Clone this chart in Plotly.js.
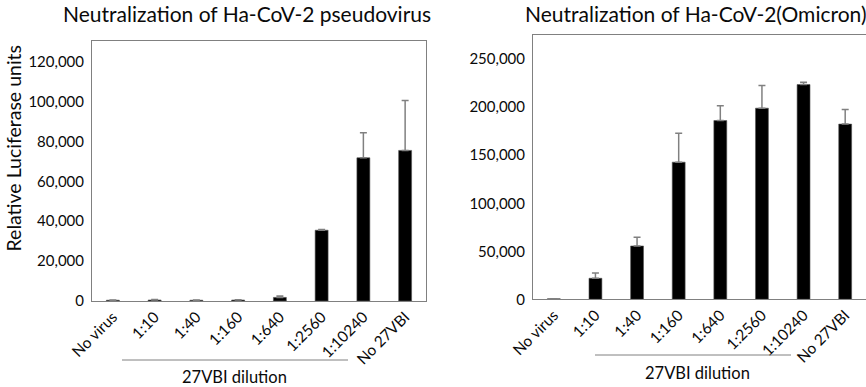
<!DOCTYPE html>
<html>
<head>
<meta charset="utf-8">
<script src="https://cdn.plot.ly/plotly-3.0.1.min.js"></script>
<style>html,body{margin:0;padding:0;background:#fff}#chart{width:866px;height:387px}</style>
</head>
<body>
<div id="chart"></div>
<script>
const categories = ["No virus", "1:10", "1:40", "1:160", "1:640", "1:2560", "1:10240", "No 27VBI"];
const pseudoMeans = [400, 500, 400, 500, 1800, 35500, 71800, 75500];
const pseudoErrors = [100, 200, 100, 150, 700, 300, 12500, 25000];
const omicronMeans = [600, 21900, 55500, 142800, 186100, 199000, 223600, 182400];
const omicronErrors = [100, 5500, 9100, 30200, 15300, 23600, 2500, 15200];
const zeros = categories.map(() => 0);

const FONT = "Lato, 'Open Sans', sans-serif";
const GRAY = "#808080";
const INK = "#0a0a0a";

function barTrace(y, err, xa, ya) {
  return {
    type: "bar", x: categories, y: y, xaxis: xa, yaxis: ya, width: 0.31,
    marker: {color: "#000", line: {color: "#555", width: 0.6}},
    error_y: {type: "data", symmetric: false, array: err, arrayminus: zeros,
              color: GRAY, thickness: 1.5, width: 3.5},
    hoverinfo: "x+y", showlegend: false
  };
}

const data = [
  barTrace(pseudoMeans, pseudoErrors, "x", "y"),
  barTrace(omicronMeans, omicronErrors, "x2", "y2")
];

const xCommon = {
  type: "category", tickangle: -45, showline: true, mirror: true, linecolor: GRAY, linewidth: 1,
  ticks: "", showgrid: false, zeroline: false, range: [-0.5, 7.5],
  tickfont: {family: FONT, size: 15.4, color: INK}
};
const yCommon = {
  showline: true, mirror: true, linecolor: GRAY, linewidth: 1, ticks: "", showgrid: false,
  zeroline: false, tickformat: ",d", ticklabelstandoff: 4,
  tickfont: {family: FONT, size: 15, color: INK}
};

const layout = {
  width: 866, height: 387, margin: {l: 0, r: 0, t: 0, b: 0},
  paper_bgcolor: "#fff", plot_bgcolor: "#fff",
  xaxis: Object.assign({}, xCommon, {domain: [92/866, 426/866], anchor: "y"}),
  yaxis: Object.assign({}, yCommon, {domain: [(387-301)/387, (387-40.7)/387], anchor: "x",
    range: [0, 130500], dtick: 20000}),
  xaxis2: Object.assign({}, xCommon, {domain: [533/866, 1], anchor: "y2"}),
  yaxis2: Object.assign({}, yCommon, {domain: [(387-299.3)/387, (387-34.5)/387], anchor: "x2",
    range: [0, 275700], dtick: 50000}),
  annotations: [
    {text: "Neutralization of Ha-CoV-2 pseudovirus", xref: "paper", yref: "paper", x: 247/866, y: (387-14)/387,
     showarrow: false, xanchor: "center", yanchor: "middle", font: {family: FONT, size: 21, color: INK}},
    {text: "Neutralization of Ha-CoV-2(Omicron)", xref: "paper", yref: "paper", x: 696/866, y: (387-13)/387,
     showarrow: false, xanchor: "center", yanchor: "middle", font: {family: FONT, size: 21, color: INK}},
    {text: "Relative Luciferase units", xref: "paper", yref: "paper", x: 13/866, y: (387-148.5)/387,
     textangle: -90, showarrow: false, xanchor: "center", yanchor: "middle", font: {family: FONT, size: 19.5, color: INK}},
    {text: "27VBI dilution", xref: "paper", yref: "paper", x: 234/866, y: (387-377)/387,
     showarrow: false, xanchor: "center", yanchor: "middle", font: {family: FONT, size: 16.5, color: INK}},
    {text: "27VBI dilution", xref: "paper", yref: "paper", x: 697/866, y: (387-373)/387,
     showarrow: false, xanchor: "center", yanchor: "middle", font: {family: FONT, size: 16.5, color: INK}}
  ],
  shapes: [
    {type: "line", xref: "paper", yref: "paper", x0: 122/866, x1: 348/866, y0: (387-360)/387, y1: (387-360)/387,
     line: {color: GRAY, width: 1}},
    {type: "line", xref: "paper", yref: "paper", x0: 595/866, x1: 791/866, y0: (387-355)/387, y1: (387-355)/387,
     line: {color: GRAY, width: 1}}
  ]
};

Plotly.newPlot("chart", data, layout, {staticPlot: true, displayModeBar: false});
</script>
</body>
</html>
